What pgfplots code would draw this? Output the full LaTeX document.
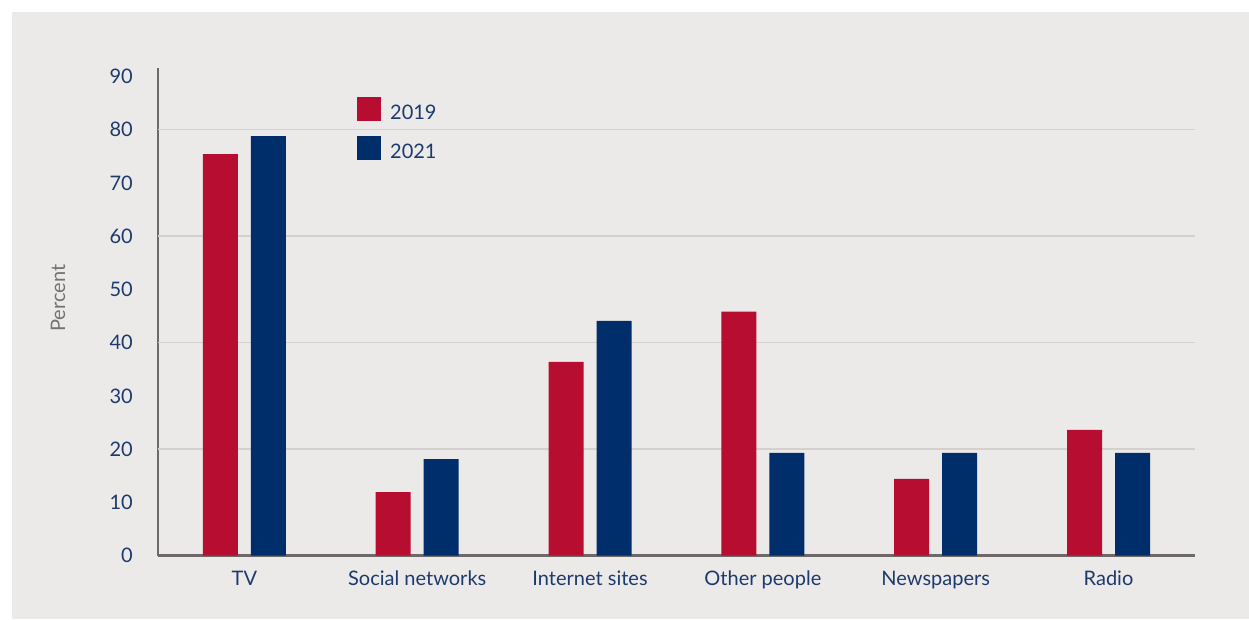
\documentclass[border=0pt]{standalone}
\usepackage{pgfplots}
\pgfplotsset{compat=1.18}
\usepackage{fontspec}
\setmainfont{Lato}
\definecolor{c2019}{HTML}{B70D30}
\definecolor{c2021}{HTML}{002E6A}
\definecolor{bggray}{HTML}{ECEAE8}
\definecolor{axgray}{HTML}{6E6868}
\definecolor{gridgray}{HTML}{D3D0CE}
\definecolor{txtblue}{HTML}{1D3A6E}
\definecolor{lblgray}{HTML}{77716F}
\begin{document}
\begin{tikzpicture}
\fill[white] (0pt,0pt) rectangle (1249pt,619pt);
\fill[bggray] (12pt,0pt) rectangle (1249pt,607pt);
\begin{axis}[
  at={(158pt,63.5pt)}, anchor=south west,
  scale only axis, width=1037pt, height=487.5pt,
  xmin=-0.5, xmax=5.5, ymin=0, ymax=91.6,
  axis lines*=left,
  axis line style={draw=axgray, line width=2.7pt},
  xtick={0,1,2,3,4,5},
  xticklabels={TV,Social networks,Internet sites,Other people,Newspapers,Radio},
  ytick={0,10,...,90},
  extra y ticks={20,40,60,80},
  extra y tick labels={},
  extra y tick style={grid=major, major grid style={draw=gridgray, line width=1.5pt}},
  major tick length=0pt,
  /pgf/number format/assume math mode=true,
  tick label style={font=\fontsize{20}{20}\selectfont, text=txtblue, inner sep=0pt},
  yticklabel style={anchor=east, xshift=-25pt},
  xticklabel style={anchor=base, yshift=-29.5pt},
  ylabel={Percent},
  ylabel style={at={(axis description cs:-0.0964,0.528)}, anchor=center, rotate=0,
    font=\fontsize{20}{20}\selectfont, text=lblgray},
  legend image code/.code={\fill[#1] (0pt,-1.7pt) rectangle (24pt,22.3pt);},
  legend style={at={(axis description cs:0.1919,0.9405)}, anchor=north west,
    draw=none, fill=none, inner sep=0pt, row sep=15pt, column sep=9pt,
    font=\fontsize{20}{20}\selectfont, text=txtblue,
    nodes={inner sep=0pt}, cells={anchor=base west}},
]
\addplot[ybar, bar width=35pt, bar shift=-24pt, fill=c2019, draw=none, forget plot]
  coordinates {(0,75.4) (1,11.9) (2,36.4) (3,45.8) (4,14.4) (5,23.6)};
\addplot[ybar, bar width=35pt, bar shift=24pt, fill=c2021, draw=none, forget plot]
  coordinates {(0,78.8) (1,18.1) (2,44.1) (3,19.3) (4,19.3) (5,19.3)};
\addlegendimage{fill=c2019, draw=none}
\addlegendentry{2019}
\addlegendimage{fill=c2021, draw=none}
\addlegendentry{2021}
\end{axis}
\end{tikzpicture}
\end{document}
